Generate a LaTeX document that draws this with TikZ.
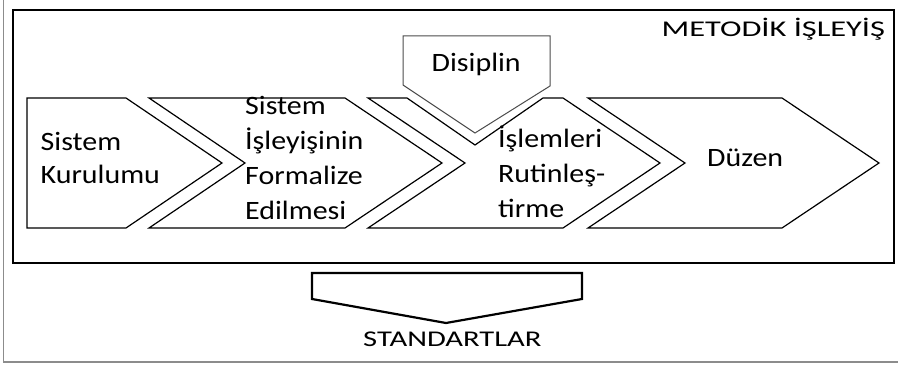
\documentclass[tikz,border=0pt]{standalone}
\usepackage{fontspec}
\setmainfont{Carlito}
\newfontfamily\chevfont{Carlito}[FakeStretch=1.13]
\newfontfamily\standfont{Carlito}[FakeStretch=1.36]
\newfontfamily\metofont{Carlito}[FakeStretch=1.44]
\begin{document}
\begin{tikzpicture}[x=1pt,y=-1pt,
  chev/.style={draw=black,line width=1.2pt,line join=miter,fill=white},
  capbox/.style={draw=black!70,line width=1pt,fill=white},
  frame/.style={draw=black,line width=2.8pt},
  pagefrm/.style={draw=black!45,line width=1.2pt},
  label/.style={inner sep=0pt,anchor=base west,align=left,
    font=\chevfont\fontsize{26.5}{35}\selectfont},
  head/.style={inner sep=0pt,anchor=base west}]
\useasboundingbox (0,0) rectangle (898,366);
% page edges
\draw[pagefrm] (3.5,0) -- (3.5,362) -- (898,362);
% outer frame of the method
\draw[frame] (13,10) rectangle (894,263);
\node[head,font=\metofont\fontsize{22.5}{27}\selectfont] (meto) at (661.5,36.5) {METODİK İŞLEYİŞ};
% process chevrons
\draw[chev] (27,98) -- (126,98) -- (222,163) -- (126,228) -- (27,228) -- cycle;
\draw[chev] (149,98) -- (345,98) -- (442,163) -- (345,228) -- (149,228) -- (245,163) -- cycle;
\draw[chev] (368,98) -- (407,98) -- (475,145) -- (543,98) -- (563,98) -- (660,163)
  -- (563,228) -- (368,228) -- (465,163) -- cycle;
\draw[chev] (588,98) -- (782,98) -- (879,163) -- (782,228) -- (588,228) -- (685,163) -- cycle;
% discipline box pointing down
\draw[capbox] (403,36) -- (550,36) -- (550,86) -- (475,133) -- (403,85) -- cycle;
\node[label] (disiplin) at (431.5,71.5) {Disiplin};
% texts in the chevrons (anchored at the baseline of the last line)
\node[label,font=\chevfont\fontsize{26.5}{33}\selectfont] (kurulum) at (40.5,183.5) {Sistem\\Kurulumu};
\node[label] (formal) at (245,220) {Sistem\\İşleyişinin\\Formalize\\Edilmesi};
\node[label] (rutin) at (498,218) {İşlemleri\\Rutinleş-\\tirme};
\node[label] (duzen) at (707,167) {Düzen};
% standards arrow below
\draw[draw=black,line width=2.2pt,line join=miter,fill=white]
  (312,273) -- (582,273) -- (582,299) -- (446,323) -- (312,299) -- cycle;
\node[head,font=\standfont\fontsize{22.5}{27}\selectfont] (stand) at (363,347) {STANDARTLAR};
\end{tikzpicture}
\end{document}
